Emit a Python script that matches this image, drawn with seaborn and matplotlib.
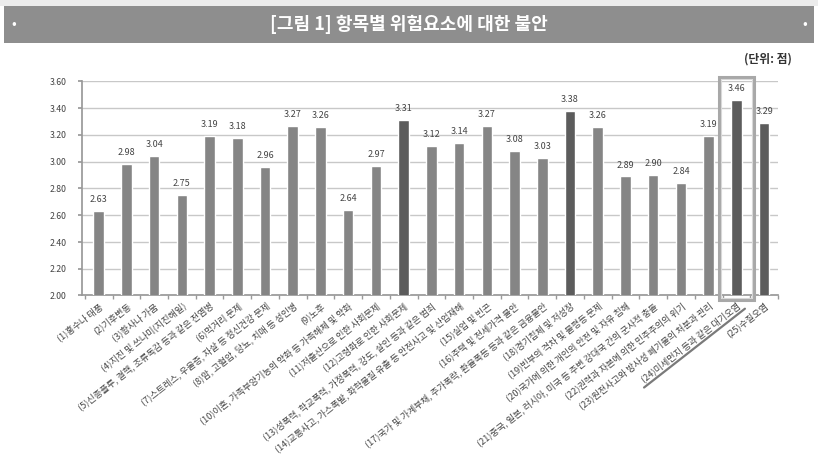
import matplotlib
matplotlib.use("Agg")
import matplotlib.pyplot as plt
import seaborn as sns
import pandas as pd
import numpy as np
from matplotlib.patches import Rectangle
from matplotlib.lines import Line2D

sns.set_theme(style="white")
plt.rcParams['font.family'] = ['Noto Sans CJK KR', 'DejaVu Sans']

categories = [
    "(1)홍수나 태풍", "(2)기후변동", "(3)황사나 가뭄", "(4)지진 및 쓰나미(지진해일)",
    "(5)신종플루, 결핵, 조류독감 등과 같은 전염병", "(6)먹거리 문제",
    "(7)스트레스, 우울증, 자살 등 정신건강 문제", "(8)암, 고혈압, 당뇨, 치매 등 성인병",
    "(9)노후", "(10)이혼, 가족부양기능의 약화 등 가족해체 및 약화",
    "(11)저출산으로 인한 사회문제", "(12)고령화로 인한 사회문제",
    "(13)성폭력, 학교폭력, 가정폭력, 강도, 살인 등과 같은 범죄",
    "(14)교통사고, 가스폭발, 화학물질 유출 등 안전사고 및 산업재해",
    "(15)실업 및 빈곤", "(16)주택 및 전세가격 불안",
    "(17)국가 및 가계부채, 주가폭락, 환율폭등 등과 같은 금융불안",
    "(18)경기침체 및 저성장", "(19)빈부의 격차 및 불평등 문제",
    "(20)국가에 의한 개인의 안전 및 자유 침해",
    "(21)중국, 일본, 러시아, 미국 등 주변 강대국 간의 군사적 충돌",
    "(22)권력과 자본에 의한 민주주의의 위기",
    "(23)원전사고와 방사성 폐기물의 처분과 관리",
    "(24)미세먼지 등과 같은 대기오염", "(25)수질오염",
]
values = [2.63, 2.98, 3.04, 2.75, 3.19, 3.18, 2.96, 3.27, 3.26, 2.64,
          2.97, 3.31, 3.12, 3.14, 3.27, 3.08, 3.03, 3.38, 3.26, 2.89,
          2.90, 2.84, 3.19, 3.46, 3.29]
dark_items = [12, 18, 24, 25]
highlight_item = 24
yticks = [2.00, 2.20, 2.40, 2.60, 2.80, 3.00, 3.20, 3.40, 3.60]

W, H = 818, 469
ROT = 38
fig = plt.figure(figsize=(W / 100, H / 100), dpi=100)
fig.patch.set_facecolor("white")

# banner
fig.patches.append(Rectangle((0, 1 - 6 / H), 1, 6 / H, transform=fig.transFigure,
                             facecolor="#ececec", edgecolor="none", zorder=0))
fig.patches.append(Rectangle((4 / W, 1 - 43 / H), 810 / W, 37 / H, transform=fig.transFigure,
                             facecolor="#8e8e8e", edgecolor="none", zorder=1))
fig.text(0.5, 1 - 24.5 / H, "[그림 1] 항목별 위험요소에 대한 불안", ha="center", va="center",
         color="white", fontsize=13, fontweight="bold")
fig.text(14 / W, 1 - 24.5 / H, "•", ha="center", va="center", color="white", fontsize=10)
fig.text(805 / W, 1 - 24.5 / H, "•", ha="center", va="center", color="white", fontsize=10)
fig.text(792 / W, 1 - 59 / H, "(단위: 점)", ha="right", va="center", color="#333333",
         fontsize=8.5, fontweight="bold")

ax = fig.add_axes([82 / W, 1 - 295.5 / H, (778 - 82) / W, (295.5 - 81.5) / H])

df = pd.DataFrame({"item": categories, "score": values})
colors = ["#5c5c5c" if (i + 1) in dark_items else "#858585" for i in range(len(categories))]
sns.barplot(data=df, x="item", y="score", hue="item", palette=colors, legend=False,
            width=0.38, ax=ax, zorder=3, saturation=1)

ax.set_ylim(2.0, 3.6)
ax.set_xlim(-0.6, 24.5)
ax.set_yticks(yticks)
ax.set_yticklabels([f"{t:.2f}" for t in yticks], fontsize=6.3, color="#444444")
ax.yaxis.grid(True, color="#c8c8c8", linewidth=1)
ax.set_axisbelow(True)
ax.set_xlabel("")
ax.set_ylabel("")
for s in ["top", "right"]:
    ax.spines[s].set_visible(False)
ax.spines["left"].set_color("#999999")
ax.spines["bottom"].set_color("#999999")
ax.tick_params(axis="y", length=3, color="#999999", pad=8, left=True)
ax.set_xticks(range(len(categories)))
ax.set_xticklabels(categories, rotation=ROT, ha="right", va="top", rotation_mode="anchor",
                   fontsize=6.6, color="#444444")
ax.set_xticks([i + 0.5 for i in range(-1, len(categories))], minor=True)
ax.tick_params(axis="x", which="major", length=0, pad=4)
ax.tick_params(axis="x", which="minor", length=3, color="#999999", bottom=True)

for i, v in enumerate(values):
    ax.annotate(f"{v:.2f}", (i, v), xytext=(0, 5), textcoords="offset points",
                ha="center", va="bottom", fontsize=6.5, color="#444444")

# highlight box around item 24
hi = highlight_item - 1
ax.add_patch(Rectangle((hi - 0.62, 1.97), 1.24, 1.66, transform=ax.transData, fill=False,
                       edgecolor="#a8a8a8", linewidth=2.2, clip_on=False, zorder=5))
ax.add_patch(Rectangle((hi - 0.56, 1.985), 1.12, 1.63, transform=ax.transData, fill=False,
                       edgecolor="#d8d8d8", linewidth=0.8, clip_on=False, zorder=5))

# underline under label 24, computed from the rendered label
fig.canvas.draw()
renderer = fig.canvas.get_renderer()
lbl = ax.get_xticklabels()[hi]
tmp = fig.text(0, 0, lbl.get_text(), fontsize=lbl.get_fontsize(), rotation=0)
bb = tmp.get_window_extent(renderer)
tmp.remove()
w, h = bb.width, bb.height
th = np.deg2rad(ROT)
R = np.array([[np.cos(th), -np.sin(th)], [np.sin(th), np.cos(th)]])
lb = lbl.get_window_extent(renderer)
top_right = np.array([lb.x1 - h * np.sin(th), lb.y1])
base_right = top_right + R @ np.array([0, -h - 1.5])
p_start = base_right + R @ np.array([-w - 3, 0])
p_end = base_right + R @ np.array([2, 0])
inv = fig.transFigure.inverted()
a = inv.transform(p_start)
b = inv.transform(p_end)
fig.lines.append(Line2D([a[0], b[0]], [a[1], b[1]], transform=fig.transFigure,
                        color="#7a7a7a", linewidth=1.6))

fig.savefig("out.png", dpi=100)
